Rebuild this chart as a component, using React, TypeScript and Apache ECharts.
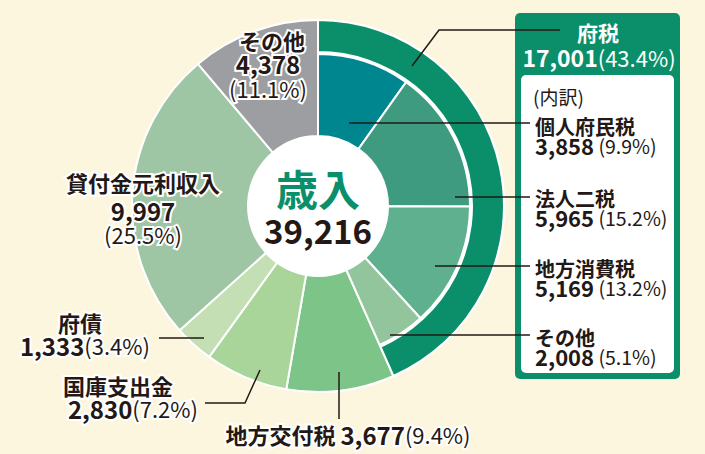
import React, { useEffect, useRef } from 'react';
import * as echarts from 'echarts';

// ---- data ----
const totalName = '歳入';
const totalValue = 39216;
const fuzeiName = '府税';
const fuzeiTotal = 17001;
const fuzeiPct = '43.4';
const partNames = ['個人府民税', '法人二税', '地方消費税', 'その他'];
const partValues = [3858, 5965, 5169, 2008];
const partPcts = ['9.9', '15.2', '13.2', '5.1'];
const otherNames = ['地方交付税', '国庫支出金', '府債', '貸付金元利収入', 'その他'];
const otherValues = [3677, 2830, 1333, 9997, 4378];
const otherPcts = ['9.4', '7.2', '3.4', '25.5', '11.1'];

// ---- styles ----
const partColors = ['#00868f', '#3e9b80', '#5eb08e', '#93c59c'];
const otherColors = ['#7cc488', '#a9d49a', '#c4dfb4', '#9fc6a4', '#9c9ea1'];
const GREEN = '#0a8f6a';
const BG = '#fdf6df';
const INK = '#231815';
const F = "'Noto Sans CJK JP', 'Noto Sans', sans-serif";
const CX = 318;
const CY = 206;

const fmt = (v: number) => v.toLocaleString('en-US');

function richText(x: number, y: number, text: string, align: string, halo: boolean, rich: any, lh: number, fill = INK) {
  const r: any = {};
  Object.keys(rich).forEach((k) => {
    r[k] = { fontFamily: F, fill, lineHeight: lh, ...rich[k], ...(halo ? { stroke: '#fff', lineWidth: 4 } : {}) };
  });
  return {
    type: 'text',
    x,
    y,
    z: 30,
    silent: true,
    style: {
      text,
      align,
      verticalAlign: 'middle',
      fontFamily: F,
      fill,
      lineHeight: lh,
      rich: r,
      ...(halo ? { stroke: '#fff', lineWidth: 4 } : {}),
    },
  };
}

const chartRich = {
  n: { fontSize: 22, fontWeight: 'bold' },
  v: { fontSize: 24, fontWeight: 'bold' },
  p: { fontSize: 22, fontWeight: 'normal' },
};
const boxRich = {
  n: { fontSize: 20, fontWeight: 'bold' },
  v: { fontSize: 22, fontWeight: 'bold' },
  p: { fontSize: 19.5, fontWeight: 'normal' },
};

function line(points: number[][]) {
  return {
    type: 'polyline',
    z: 25,
    silent: true,
    shape: { points },
    style: { stroke: INK, lineWidth: 1.5, fill: 'none' },
  };
}

export default function App() {
  const ref = useRef<HTMLDivElement>(null);
  useEffect(() => {
    if (!ref.current) return;
    const chart = echarts.init(ref.current, undefined, { renderer: 'svg' });
    const restOfTotal = totalValue - fuzeiTotal;
    const clear = { color: 'rgba(0,0,0,0)', borderWidth: 0 };
    const common = {
      type: 'pie',
      center: [CX, CY],
      startAngle: 90,
      clockwise: true,
      silent: true,
      label: { show: false },
      labelLine: { show: false },
      emphasis: { disabled: true },
      itemStyle: { borderColor: '#fff', borderWidth: 2 },
    };

    const graphic: any[] = [
      { type: 'circle', z: 20, silent: true, shape: { cx: CX, cy: CY, r: 70 }, style: { fill: '#fff' } },
      richText(CX, 187, `{t|${totalName}}`, 'center', false, { t: { fontSize: 42, fontWeight: 'bold' } }, 40, GREEN),
      richText(CX, 230, `{t|${fmt(totalValue)}}`, 'center', false, { t: { fontSize: 33, fontWeight: 'bold' } }, 34),
      // box
      { type: 'rect', z: 10, silent: true, shape: { x: 515, y: 13, width: 165, height: 366, r: 5 }, style: { fill: GREEN } },
      { type: 'rect', z: 11, silent: true, shape: { x: 521, y: 75, width: 153, height: 298, r: 5 }, style: { fill: '#fff' } },
      richText(598, 32, `{n|${fuzeiName}}`, 'center', false, { n: { fontSize: 21, fontWeight: 'bold' } }, 22, '#fff'),
      richText(599, 57, `{v|${fmt(fuzeiTotal)}}{p|(${fuzeiPct}%)}`, 'center', false, {
        v: { fontSize: 23, fontWeight: 'bold' },
        p: { fontSize: 22, fontWeight: 'normal' },
      }, 22, '#fff'),
      richText(533, 96, '{p|(内訳)}', 'left', false, { p: { fontSize: 19, fontWeight: 'normal' } }, 20),
    ];

    const partY = [126, 198, 268, 337];
    partNames.forEach((nm, i) => {
      graphic.push(richText(535, partY[i], `{n|${nm}}`, 'left', false, boxRich, 17));
      graphic.push(richText(535, partY[i] + 19, `{v|${fmt(partValues[i])}}{p| (${partPcts[i]}%)}`, 'left', false, boxRich, 17));
    });

    // chart labels
    graphic.push(richText(348, 434, `{n|${otherNames[0]} }{v|${fmt(otherValues[0])}}{p|(${otherPcts[0]}%)}`, 'center', true, chartRich, 22));
    graphic.push(richText(118, 385, `{n|${otherNames[1]}}`, 'center', true, chartRich, 20));
    graphic.push(richText(198, 408, `{v|${fmt(otherValues[1])}}{p|(${otherPcts[1]}%)}`, 'right', true, chartRich, 20));
    graphic.push(richText(80, 322, `{n|${otherNames[2]}}`, 'center', true, chartRich, 20));
    graphic.push(richText(150, 345, `{v|${fmt(otherValues[2])}}{p|(${otherPcts[2]}%)}`, 'right', true, chartRich, 20));
    graphic.push(richText(143, 182, `{n|${otherNames[3]}}`, 'center', true, chartRich, 22));
    graphic.push(richText(143, 210, `{v|${fmt(otherValues[3])}}`, 'center', true, chartRich, 22));
    graphic.push(richText(143, 234, `{p|(${otherPcts[3]}%)}`, 'center', true, chartRich, 22));
    graphic.push(richText(272, 40, `{n|${otherNames[4]}}`, 'center', true, chartRich, 21));
    graphic.push(richText(268, 63, `{v|${fmt(otherValues[4])}}`, 'center', true, chartRich, 21));
    graphic.push(richText(268, 88, `{p|(${otherPcts[4]}%)}`, 'center', true, chartRich, 21));

    // leader lines
    graphic.push(line([[412, 66], [439, 30], [560, 30]]));
    graphic.push(line([[349, 123], [530, 123]]));
    graphic.push(line([[455, 197], [530, 197]]));
    graphic.push(line([[435, 266], [530, 266]]));
    graphic.push(line([[390, 335], [530, 335]]));
    graphic.push(line([[339, 372], [339, 419]]));
    graphic.push(line([[260, 370], [245, 403], [205, 403]]));
    graphic.push(line([[159, 338], [204, 338]]));

    chart.setOption({
      animation: false,
      backgroundColor: BG,
      series: [
        {
          ...common,
          z: 1,
          radius: [70, 186],
          data: [
            { name: fuzeiName, value: fuzeiTotal, itemStyle: { color: '#fff' } },
            ...otherNames.map((n, i) => ({ name: n, value: otherValues[i], itemStyle: { color: otherColors[i] } })),
          ],
        },
        {
          ...common,
          z: 2,
          radius: [70, 152],
          data: [
            ...partNames.map((n, i) => ({ name: n, value: partValues[i], itemStyle: { color: partColors[i] } })),
            { name: 'rest', value: restOfTotal, itemStyle: clear },
          ],
        },
        {
          ...common,
          z: 3,
          radius: [154, 186],
          data: [
            { name: fuzeiName, value: fuzeiTotal, itemStyle: { color: GREEN } },
            { name: 'rest', value: restOfTotal, itemStyle: clear },
          ],
        },
      ],
      graphic,
    });
    return () => chart.dispose();
  }, []);
  return <div ref={ref} style={{ position: 'absolute', left: 0, top: 0, width: 705, height: 454 }} />;
}
